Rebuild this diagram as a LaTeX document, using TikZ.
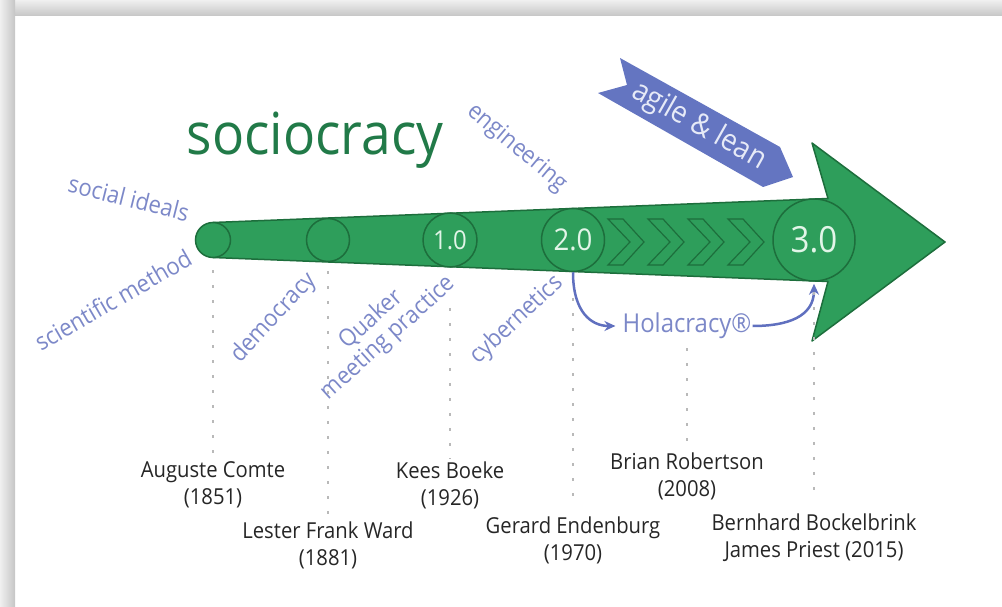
\documentclass[tikz,border=0pt]{standalone}
\usepackage{fontspec}
\setmainfont{Open Sans}[FakeStretch=0.92]
\usetikzlibrary{arrows.meta}
\definecolor{arrowgreen}{HTML}{2E9E5B}
\definecolor{darkgreen}{HTML}{1D6E3C}
\definecolor{titlegreen}{HTML}{217A48}
\definecolor{stagetext}{HTML}{E2F5E8}
\definecolor{ideablue}{HTML}{7C88C8}
\definecolor{arrowblue}{HTML}{6070BF}
\definecolor{bannerblue}{HTML}{6475C1}
\definecolor{bannertext}{HTML}{E6EAF7}
\begin{document}
\begin{tikzpicture}[x=1pt, y=-1pt,
    stage/.style={circle, draw=darkgreen, fill=arrowgreen, line width=1.5pt, inner sep=0pt, text=stagetext},
    idea/.style={text=ideablue, font=\fontsize{24}{25}\selectfont, align=center, inner sep=1pt},
    person/.style={text=black!85, font=\fontsize{22}{27}\selectfont, align=center, inner sep=2pt},
    guide/.style={gray!55, line width=1.5pt, dash pattern=on 3pt off 12pt},
    flow/.style={arrowblue, line width=2.5pt, -{Stealth[length=11pt, width=10pt]}}]
    \useasboundingbox (0,0) rectangle (1002,607);
    \shade[top color=gray!12, bottom color=gray!45] (0,0) rectangle (1002,16);
    \shade[left color=gray!12, right color=gray!45] (0,0) rectangle (15,607);

    \filldraw[fill=arrowgreen, draw=darkgreen, line width=1.5pt, line join=round]
      (213,222.5) -- (828,198.5) -- (812,143) -- (945,242) -- (812,341) -- (828,281.5) -- (213,257.5) -- cycle;
    \foreach \x in {608,648,688,728}
      \draw[darkgreen, line width=1.2pt] (\x,219) -- ++(15,0) -- ++(21,23) -- ++(-21,23) -- ++(-15,0) -- ++(22,-23) -- cycle;

    \node[stage, minimum size=35pt] (c1) at (213,240) {};
    \node[stage, minimum size=43pt] (c2) at (328,240) {};
    \node[stage, minimum size=54pt, font=\fontsize{26}{26}\selectfont] (c3) at (450,240) {1.0};
    \node[stage, minimum size=63pt, font=\fontsize{30}{30}\selectfont] (c4) at (573,240) {2.0};
    \node[stage, minimum size=82pt, font=\fontsize{36}{36}\selectfont] (c5) at (814,240) {3.0};

    \fill[bannerblue] (620,58) -- (780,147) -- (793,177) -- (763,187) -- (598,93) -- (627,85) -- cycle;
    \node[rotate=-29.5, text=bannertext, font=\fontsize{30}{30}\selectfont] (agile) at (699,126) {agile \& lean};

    \node[anchor=base, text=titlegreen, font=\fontsize{58}{58}\selectfont] (title) at (315,155) {sociocracy};

    \node[idea, rotate=-14] (ideals) at (129,198) {social ideals};
    \node[idea, rotate=30] (method) at (113,300) {scientific method};
    \node[idea, rotate=47] (democracy) at (274,318) {democracy};
    \node[idea, rotate=42] (quaker) at (380,329) {Quaker\\meeting practice};
    \node[idea, rotate=43] (cyber) at (517,320) {cybernetics};
    \node[idea, rotate=-40] (engineering) at (517,148) {engineering};
    \node[idea, font=\fontsize{26}{26}\selectfont] (holacracy) at (687,326) {Holacracy®};

    \draw[flow, shorten >=6pt] (c4.south) .. controls +(0,40) and +(-30,0) .. (holacracy.west);
    \draw[flow, shorten >=2pt] (holacracy.east) .. controls +(35,0) and +(0,35) .. (c5.south);

    \node[person] (comte) at (213,485) {Auguste Comte\\(1851)};
    \node[person] (ward) at (328,545) {Lester Frank Ward\\(1881)};
    \node[person] (boeke) at (450,485) {Kees Boeke\\(1926)};
    \node[person] (endenburg) at (573,540) {Gerard Endenburg\\(1970)};
    \node[person] (robertson) at (687,476) {Brian Robertson\\(2008)};
    \node[person] (bockelbrink) at (814,538) {Bernhard Bockelbrink\\James Priest (2015)};

    \draw[guide, shorten >=3pt] (c1.south) ++(0,12) -- (comte.north);
    \draw[guide] (c2.south) ++(0,9) -- (ward.north);
    \draw[guide] (c3.south) ++(0,40) -- (boeke.north);
    \draw[guide, shorten >=11pt] (c4.south) ++(0,26) -- (endenburg.north);
    \draw[guide, shorten >=8pt] (holacracy.south) ++(0,8) -- (robertson.north);
    \draw[guide, shorten >=16pt] (c5.south) ++(0,10) -- (bockelbrink.north);
  \end{tikzpicture}
\end{document}
